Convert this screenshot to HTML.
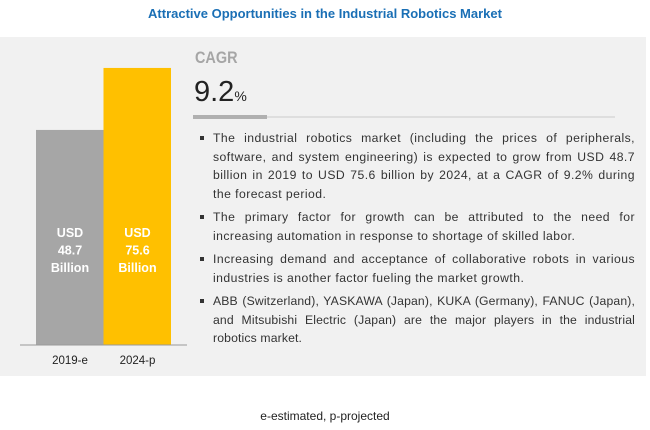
<!DOCTYPE html>
<html><head><meta charset="utf-8"><style>
body{margin:0;width:650px;height:430px;background:#fff;font-family:"Liberation Sans",sans-serif;position:relative;overflow:hidden}
.abs{position:absolute}
#title{left:0;width:650px;top:6px;text-align:center;color:#1a6fb5;font-weight:bold;font-size:13px}
#panel{left:0;top:37px;width:646px;height:339px;background:#f1f1f1}
#cagr{left:195px;top:48px;font-size:17px;font-weight:bold;color:#a6a6a6;transform:scaleX(0.85);transform-origin:left}
#val{left:194px;top:76px;font-size:29px;color:#222}
#val span{font-size:14px}
ul{position:absolute;left:198px;top:129px;width:437px;margin:0;padding:0;list-style:none;font-size:12.2px;letter-spacing:0.45px;color:#333;line-height:18.5px}
li{padding-left:15px;position:relative;text-align:justify;margin-bottom:5px}
li.t{letter-spacing:0.15px}
li:before{content:"";position:absolute;left:2px;top:7px;width:4px;height:4px;background:#333}
#foot{left:0;width:650px;top:409px;text-align:center;font-size:12px;color:#222}
</style></head><body>
<div class="abs" id="title">Attractive Opportunities in the Industrial Robotics Market</div>
<div class="abs" id="panel"></div>
<svg class="abs" style="left:0;top:0" width="650" height="430">
<g id="bars"></g>
<line x1="20" y1="345" x2="187" y2="345" stroke="#999" stroke-width="1"/>
<line x1="193" y1="117" x2="615" y2="117" stroke="#ccc" stroke-width="1"/>
<rect x="193" y="115" width="74" height="4" fill="#b0b0b0"/>
</svg>
<div class="abs" id="cagr">CAGR</div>
<div class="abs" id="val">9.2<span>%</span></div>
<ul>
<li>The industrial robotics market (including the prices of peripherals, software, and system engineering) is expected to grow from USD 48.7 billion in 2019 to USD 75.6 billion by 2024, at a CAGR of 9.2% during the forecast period.</li>
<li>The primary factor for growth can be attributed to the need for increasing automation in response to shortage of skilled labor.</li>
<li>Increasing demand and acceptance of collaborative robots in various industries is another factor fueling the market growth.</li>
<li class="t">ABB (Switzerland), YASKAWA (Japan), KUKA (Germany), FANUC (Japan), and Mitsubishi Electric (Japan) are the major players in the industrial robotics market.</li>
</ul>
<div class="abs" id="foot">e-estimated, p-projected</div>
<script>
const categories=["2019-e","2024-p"];
const values=[48.7,75.6];
const colors=["#a6a6a6","#ffc000"];
const base=345,dMin=-44.6,k=2.305;
function y(v){return base-(v-dMin)*k;}
function x(i){return 36+i*67.5;}
const ns="http://www.w3.org/2000/svg",g=document.getElementById("bars");
categories.forEach((c,i)=>{
 const r=document.createElementNS(ns,"rect");
 r.setAttribute("x",x(i));r.setAttribute("y",y(values[i]));
 r.setAttribute("width",67.5);r.setAttribute("height",base-y(values[i]));
 r.setAttribute("fill",colors[i]);
 
 
 g.appendChild(r);
 const cx=x(i)+34;
 ["USD",values[i].toFixed(1),"Billion"].forEach((s,j)=>{
  const t=document.createElementNS(ns,"text");
  t.setAttribute("x",cx);t.setAttribute("y",237+j*17.5);
  t.setAttribute("text-anchor","middle");t.setAttribute("fill","#fff");
  t.setAttribute("font-size","12.5");t.setAttribute("font-weight","bold");
  t.textContent=s;
  
  
  g.appendChild(t);
 });
 const l=document.createElementNS(ns,"text");
 l.setAttribute("x",cx);l.setAttribute("y",364);
 l.setAttribute("text-anchor","middle");l.setAttribute("fill","#222");l.setAttribute("font-size","11.5");
 l.textContent=c;
 
 
 g.appendChild(l);
});
</script>
</body></html>
